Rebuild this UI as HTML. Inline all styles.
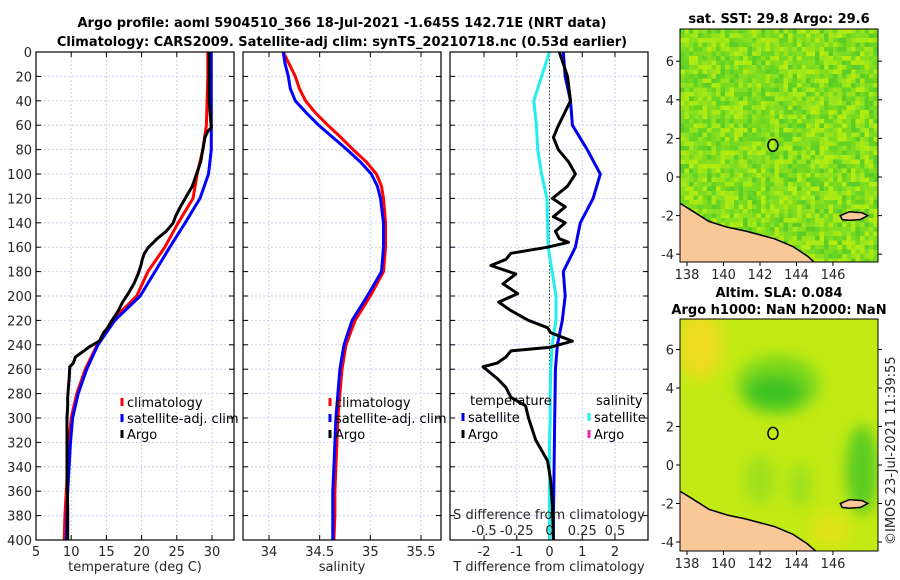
<!DOCTYPE html>
<html><head><meta charset="utf-8"><style>
body{margin:0;background:#fff;}
svg{display:block;font-family:"DejaVu Sans","Liberation Sans",sans-serif;}
.tk{font-size:13px;fill:#262626;}
.tt{font-size:13px;font-weight:bold;fill:#000;}
.lg{font-size:13px;fill:#000;}
</style></head><body>
<svg id="fig" width="900" height="580" viewBox="0 0 900 580">
<defs>
<clipPath id="c1"><rect x="36" y="52" width="198" height="488"/></clipPath>
<clipPath id="c2"><rect x="243" y="52" width="198" height="488"/></clipPath>
<clipPath id="c3"><rect x="450" y="52" width="198" height="488"/></clipPath>
<clipPath id="cm1"><rect x="680" y="29" width="198" height="233"/></clipPath>
<clipPath id="cm2"><rect x="680" y="319" width="198" height="232"/></clipPath>
<filter id="bl" x="-50%" y="-50%" width="200%" height="200%"><feGaussianBlur stdDeviation="7"/></filter>
</defs>
<text class="tt" x="342" y="27" text-anchor="middle">Argo profile: aoml 5904510_366 18-Jul-2021 -1.645S 142.71E (NRT data)</text>
<text class="tt" x="342" y="46" text-anchor="middle">Climatology: CARS2009. Satellite-adj clim: synTS_20210718.nc (0.53d earlier)</text>
<g id="p1"></g>
<g id="p2"></g>
<g id="p3"></g>
<g id="m1"></g>
<g id="m2"></g>
<text class="tt" x="779" y="23" text-anchor="middle">sat. SST: 29.8 Argo: 29.6</text>
<text class="tt" x="779" y="297" text-anchor="middle">Altim. SLA: 0.084</text>
<text class="tt" x="779" y="314" text-anchor="middle">Argo h1000: NaN h2000: NaN</text>
<text class="tk" x="0" y="0" transform="translate(895,545) rotate(-90)">©IMOS 23-Jul-2021 11:39:55</text>
</svg>
<script>
// ---- data ----
const depthTicks=[0,20,40,60,80,100,120,140,160,180,200,220,240,260,280,300,320,340,360,380,400];
const tTicks=[5,10,15,20,25,30];
const sTicks=[34,34.5,35,35.5];
const sTickLabels=['34','34.5','35','35.5'];
const dTicks=[-2,-1,0,1,2];
const sdTicks=[-0.5,-0.25,0,0.25,0.5];
const sdTickLabels=['-0.5','-0.25','0','0.25','0.5'];
const climDepth=[0,20,40,60,80,100,120,140,160,180,200,220,240,260,280,300,320,340,360,380,400];
const climTemp=[29.4,29.4,29.3,29.2,28.7,27.9,27.3,25.2,23.3,20.9,19.3,15.8,13.7,12.0,10.8,10.0,9.7,9.5,9.3,9.1,9.0];
const satTemp=[29.9,29.9,29.9,29.9,29.9,29.5,28.3,26.2,24.0,21.9,19.8,16.2,13.8,12.2,11.0,10.2,9.9,9.7,9.5,9.4,9.3];
const argoDepth=[0,20,40,62,65,70,80,90,100,110,120,127,135,140,147,153,156,160,165,170,175,182,190,198,205,212,220,226,230,237,242,245,250,255,258,268,275,283,290,300,318,335,350,372,400];
const argoTemp=[29.6,29.6,29.6,29.9,29.4,29.0,28.7,28.4,27.8,27.2,26.2,25.5,24.8,24.5,23.5,22.2,21.7,21.0,20.4,20.1,19.9,19.5,18.9,18.1,17.3,16.7,15.8,15.2,14.6,14.0,12.5,11.8,10.6,10.3,9.8,9.7,9.6,9.5,9.5,9.4,9.4,9.4,9.4,9.5,9.5];
const salDepth=[0,10,20,30,40,50,60,70,80,90,100,110,120,140,160,180,200,220,240,260,280,300,320,340,360,380,400];
const climSal=[34.14,34.2,34.26,34.3,34.36,34.46,34.58,34.71,34.83,34.96,35.06,35.11,35.13,35.15,35.15,35.13,35.0,34.85,34.76,34.72,34.70,34.68,34.67,34.66,34.65,34.65,34.64];
const satSal=[34.14,34.16,34.19,34.21,34.26,34.37,34.49,34.63,34.77,34.9,35.01,35.07,35.10,35.13,35.13,35.11,34.97,34.82,34.74,34.70,34.68,34.66,34.65,34.64,34.63,34.63,34.63];
const satTdiff=[0.42,0.48,0.64,0.70,1.15,1.55,1.33,0.94,0.79,0.42,0.48,0.39,0.24,0.18,0.17,0.16,0.15,0.14,0.13,0.12,0.12];
const satSdiff=[0.0,-0.06,-0.12,-0.10,-0.09,-0.06,-0.02,-0.015,-0.01,0.02,0.05,0.05,0.02,0.01,0.005,0.005,0.0,0.0,0.0,0.0,0.0];
const argoTdiff=[0.30,0.55,0.64,0.24,0.20,0.12,0.27,0.58,0.79,0.55,0.09,0.48,0.12,0.48,0.18,0.30,0.58,-0.06,-1.18,-1.33,-1.79,-1.03,-1.42,-0.97,-1.55,-1.18,-0.64,-0.06,0.03,0.70,0.03,-1.18,-1.33,-1.60,-2.03,-1.58,-1.33,-1.18,-0.73,-0.64,-0.42,-0.06,0.03,0.09,0.12];
const lonTicks=[138,140,142,144,146];
const latTicks=[-4,-2,0,2,4,6];
const argoLon=142.71, argoLat=1.645;

const NS='http://www.w3.org/2000/svg';
function mk(tag,attrs,parent){const e=document.createElementNS(NS,tag);for(const k in attrs)e.setAttribute(k,attrs[k]);parent.appendChild(e);return e;}
const Y0=52,Y1=540;
const sy=d=>Y0+d*(Y1-Y0)/400;
function lin(d0,d1,r0,r1){return v=>r0+(v-d0)*(r1-r0)/(d1-d0);}

function frame(g,x0,x1,xt,sx,labels,yLabels){
  for(const d of depthTicks){const y=sy(d);
    const gl=mk('line',{x1:x0,x2:x1,y1:y,y2:y,stroke:'#c9d0ee','stroke-width':1,'stroke-dasharray':'2,2'},g);
    
    mk('line',{x1:x0,x2:x0+5,y1:y,y2:y,stroke:'#000'},g);mk('line',{x1:x1-5,x2:x1,y1:y,y2:y,stroke:'#000'},g);
    if(yLabels){const t=mk('text',{x:x0-4,y:y+5,'text-anchor':'end',class:'tk'},g);t.textContent=d;
      }
  }
  xt.forEach((v,i)=>{const x=sx(v);
    const gl=mk('line',{x1:x,x2:x,y1:Y0,y2:Y1,stroke:'#c9d0ee','stroke-width':1,'stroke-dasharray':'2,2'},g);
    
    mk('line',{x1:x,x2:x,y1:Y1-5,y2:Y1,stroke:'#000'},g);mk('line',{x1:x,x2:x,y1:Y0,y2:Y0+5,stroke:'#000'},g);
    const t=mk('text',{x:x,y:Y1+16,'text-anchor':'middle',class:'tk'},g);t.textContent=labels[i];
    
  });
}
function border(g,x0,x1){const r=mk('rect',{x:x0,y:Y0,width:x1-x0,height:Y1-Y0,fill:'none',stroke:'#000','stroke-width':1.2},g);
  }
function line(g,xs,ds,sx,col,name,clip){const pts=xs.map((v,i)=>sx(v).toFixed(1)+','+sy(ds[i]).toFixed(1)).join(' ');
  const p=mk('polyline',{points:pts,fill:'none',stroke:col,'stroke-width':3,'stroke-linejoin':'round','clip-path':'url(#'+clip+')'},g);
  }
function legend(g,x,y,col,txt,name){const m=mk('line',{x1:x,x2:x,y1:y-9,y2:y-1,stroke:col,'stroke-width':3},g);
  
  const t=mk('text',{x:x+5,y:y,class:'lg'},g);t.textContent=txt;
  }
function label(g,x,y,txt,name){const t=mk('text',{x:x,y:y,'text-anchor':'middle',class:'tk'},g);t.textContent=txt;
  }

// Panel 1
const g1=document.getElementById('p1');const sx1=lin(5,30,36,212);
frame(g1,36,234,tTicks,sx1,tTicks,true);
line(g1,climTemp,climDepth,sx1,'#ff0000','climatology-temp-line','c1');
line(g1,satTemp,climDepth,sx1,'#0000ff','satellite-temp-line','c1');
line(g1,argoTemp,argoDepth,sx1,'#000000','argo-temp-line','c1');
border(g1,36,234);
legend(g1,122,407,'#ff0000','climatology','legend-climatology');
legend(g1,122,423,'#0000ff','satellite-adj. clim','legend-satellite');
legend(g1,122,439,'#000000','Argo','legend-argo');
label(g1,135,571,'temperature (deg C)','x-axis-title-temperature');

// Panel 2
const g2=document.getElementById('p2');const sx2=lin(34,35.5,269,421);
frame(g2,243,441,sTicks,sx2,sTickLabels,false);
line(g2,climSal,salDepth,sx2,'#ff0000','climatology-salinity-line','c2');
line(g2,satSal,salDepth,sx2,'#0000ff','satellite-salinity-line','c2');
border(g2,243,441);
legend(g2,330,407,'#ff0000','climatology','legend-climatology-sal');
legend(g2,330,423,'#0000ff','satellite-adj. clim','legend-satellite-sal');
legend(g2,330,439,'#000000','Argo','legend-argo-sal');
label(g2,342,571,'salinity','x-axis-title-salinity');

// Panel 3
const g3=document.getElementById('p3');const sx3=lin(-2,2,484,615);const sxs=lin(-0.5,0.5,484,615);
frame(g3,450,648,dTicks,sx3,dTicks,false);
const zl=mk('line',{x1:sx3(0),x2:sx3(0),y1:Y0,y2:Y1,stroke:'#334422','stroke-width':1,'stroke-dasharray':'1.5,2'},g3);

line(g3,satSdiff,climDepth,sxs,'#22eeee','satellite-salinity-diff-line','c3');
line(g3,satTdiff,climDepth,sx3,'#0000ee','satellite-temp-diff-line','c3');
line(g3,argoTdiff,argoDepth,sx3,'#000000','argo-temp-diff-line','c3');
sdTicks.forEach((v,i)=>{const t=mk('text',{x:sxs(v),y:535,'text-anchor':'middle',class:'tk'},g3);t.textContent=sdTickLabels[i];
  });
label(g3,549,519,'S difference from climatology','s-diff-axis-title');
border(g3,450,648);
const th=mk('text',{x:470,y:405,class:'lg'},g3);th.textContent='temperature';

const sh=mk('text',{x:596,y:405,class:'lg'},g3);sh.textContent='salinity';

legend(g3,463,422,'#0000ee','satellite','legend-temp-satellite');
legend(g3,463,439,'#000000','Argo','legend-temp-argo');
legend(g3,589,422,'#22eeee','satellite','legend-sal-satellite');
legend(g3,589,439,'#ee22bb','Argo','legend-sal-argo');
label(g3,549,571,'T difference from climatology','x-axis-title-tdiff');

// Maps
const slon=lin(138,146,687,833);
function mapFrame(g,y0,y1,latY,cid){
  const coast=[[137.6,-1.35],[138.2,-1.7],[139.2,-2.3],[140.2,-2.6],[141.2,-2.8],[142.8,-3.2],[143.8,-3.6],[144.6,-4.1],[145.2,-4.6],[137.6,-4.6]];
  const pts=coast.map(c=>slon(c[0]).toFixed(1)+','+latY(c[1]).toFixed(1)).join(' ');
  const land=mk('polygon',{points:pts,fill:'#f8c898',stroke:'#000','stroke-width':1.5,'clip-path':'url(#'+cid+')'},g);
  
  const ip=[[146.4,-2.0],[146.9,-1.8],[147.6,-1.85],[147.9,-2.0],[147.5,-2.2],[146.9,-2.25],[146.5,-2.2]];
  const isl=mk('polygon',{points:ip.map(c=>slon(c[0]).toFixed(1)+','+latY(c[1]).toFixed(1)).join(' '),fill:'#f8c898',stroke:'#000','stroke-width':1.5,'clip-path':'url(#'+cid+')'},g);
  
  const c=mk('ellipse',{cx:slon(argoLon),cy:latY(argoLat),rx:5,ry:6,fill:'none',stroke:'#000','stroke-width':1.5},g);
  
  const r=mk('rect',{x:680,y:y0,width:198,height:y1-y0,fill:'none',stroke:'#000','stroke-width':1},g);
  
  lonTicks.forEach(v=>{const x=slon(v);mk('line',{x1:x,x2:x,y1:y1,y2:y1+4,stroke:'#000'},g);
    const t=mk('text',{x:x,y:y1+17,'text-anchor':'middle',class:'tk'},g);t.textContent=v;
    });
  latTicks.forEach(v=>{const y=latY(v);mk('line',{x1:676,x2:680,y1:y,y2:y,stroke:'#000'},g);mk('line',{x1:878,x2:882,y1:y,y2:y,stroke:'#000'},g);
    const t=mk('text',{x:674,y:y+5,'text-anchor':'end',class:'tk'},g);t.textContent=v;
    });
}
// SST map texture
const m1=document.getElementById('m1');
const pal=['#66d422','#77da20','#88e01e','#99e41a','#aaea14','#5ccc26','#80dc20','#b4ec12'];
let cells='';
for(let j=0;j<52;j++)for(let i=0;i<44;i++){const h=Math.abs(Math.sin(i*12.9898+j*78.233)*43758.5453)%1;
  cells+=`<rect x="${680+i*4.5}" y="${29+j*4.5}" width="4.6" height="4.6" fill="${pal[Math.floor(h*pal.length)]}"/>`;}
const tg=mk('g',{'clip-path':'url(#cm1)'},m1);tg.innerHTML=cells;

mapFrame(m1,29,262,lin(0,2,177,138.4),'cm1');
// SLA map smooth field
const m2=document.getElementById('m2');
const sg=mk('g',{'clip-path':'url(#cm2)'},m2);

sg.innerHTML=`<rect x="680" y="319" width="198" height="232" fill="#c2ea14"/>
<g filter="url(#bl)"><ellipse cx="700" cy="345" rx="22" ry="35" fill="#eedc20"/>
<ellipse cx="778" cy="385" rx="42" ry="30" fill="#7dd81c"/>
<ellipse cx="775" cy="392" rx="30" ry="18" fill="#3fc422"/>
<ellipse cx="862" cy="470" rx="16" ry="45" fill="#5ccc22"/>
<ellipse cx="760" cy="480" rx="15" ry="25" fill="#9fe01a"/>
<ellipse cx="800" cy="485" rx="12" ry="22" fill="#9fe01a"/>
<ellipse cx="830" cy="530" rx="20" ry="18" fill="#e0e418"/></g>`;
mapFrame(m2,319,551,lin(0,2,465,426.5),'cm2');
</script>
</body></html>
